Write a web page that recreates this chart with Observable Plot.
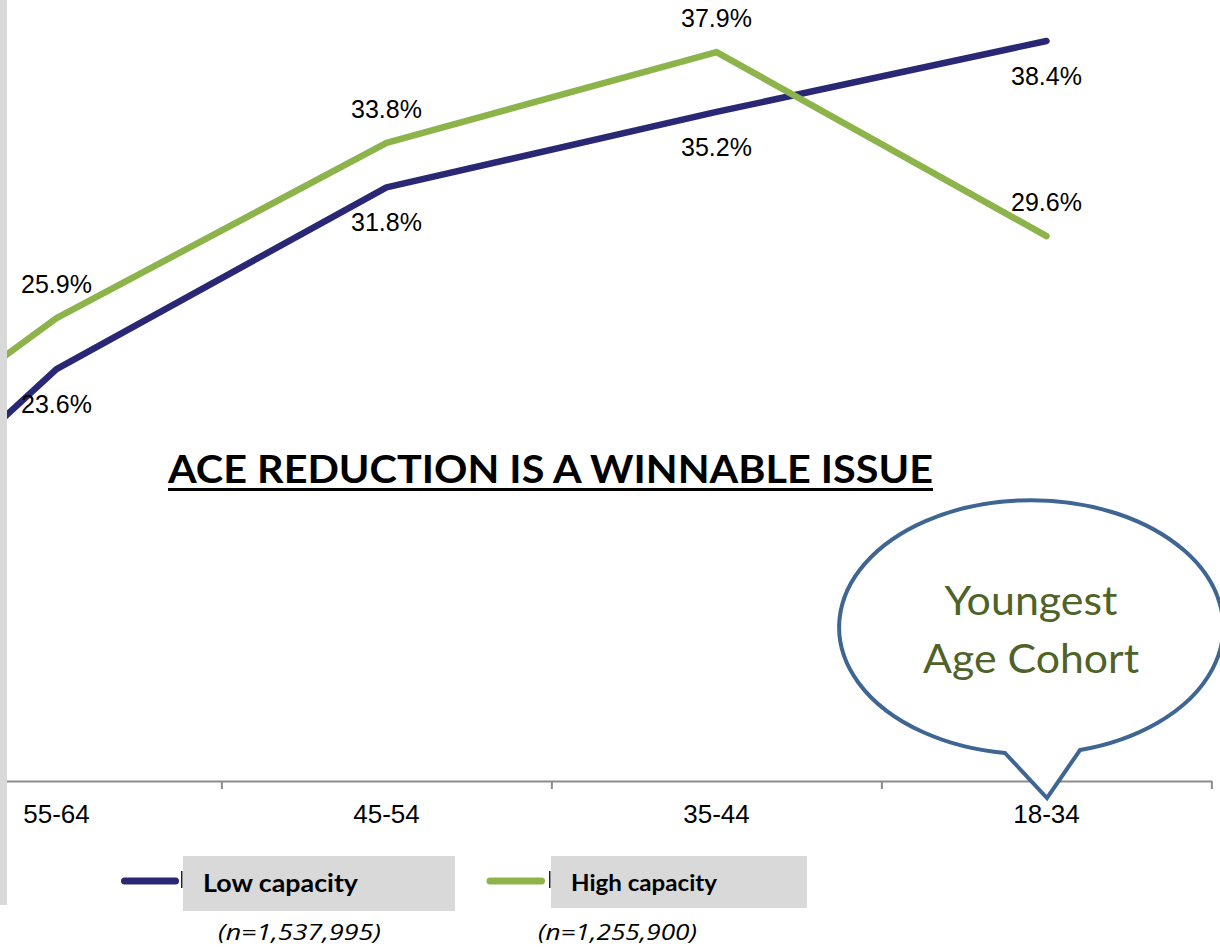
<!DOCTYPE html>
<html><head><meta charset="utf-8">
<script src="https://cdn.jsdelivr.net/npm/d3@7"></script>
<script src="https://cdn.jsdelivr.net/npm/@observablehq/plot@0.6"></script>
<style>
body{margin:0;background:#fff;}
#wrap{position:relative;width:1220px;height:950px;overflow:hidden;background:#fff;}
#chart{position:absolute;left:0;top:0;}
#chart svg{overflow:hidden;}
#overlay{position:absolute;left:0;top:0;}
</style></head><body>
<div id="wrap"><div id="chart"></div><svg id="overlay" width="1220" height="950"></svg></div>
<script>
// ---- data (first category is cut off at the left edge) ----
const ageGroups = ["65+", "55-64", "45-54", "35-44", "18-34"];
const lowCapacity = [9.9, 23.6, 31.8, 35.2, 38.4];
const highCapacity = [15.0, 25.9, 33.8, 37.9, 29.6];
const seriesNames = ["Low capacity", "High capacity"];
const sampleSizes = ["(n=1,537,995)", "(n=1,255,900)"];
const seriesColors = ["#2a2874", "#8db34b"];
const titleText = "ACE REDUCTION IS A WINNABLE ISSUE";
const calloutLines = ["Youngest", "Age Cohort"];

const rows = [];
[lowCapacity, highCapacity].forEach((vals, s) =>
  vals.forEach((v, i) => rows.push({age: ageGroups[i], value: v, series: seriesNames[s]})));
const visibleGroups = ageGroups.slice(1);
const lowRows = rows.filter(d => d.series === seriesNames[0] && visibleGroups.includes(d.age));
const highRows = rows.filter(d => d.series === seriesNames[1] && visibleGroups.includes(d.age));

// ---- layout ----
const W = 1220, H = 830, axisY = 781, topY = 5;
const xRange = [-276, 1047];
const yDomain = [5, 40];
const step = (xRange[1] - xRange[0]) / (ageGroups.length - 1);
const pxPerUnit = (axisY - topY) / (yDomain[1] - yDomain[0]);
const tickEnd = yDomain[0] - 8 / pxPerUnit;

const chart = Plot.plot({
  width: W, height: H,
  marginLeft: 0, marginRight: 8, marginTop: topY, marginBottom: H - axisY,
  style: {background: "white", overflow: "hidden"},
  x: {type: "point", domain: ageGroups, range: xRange, padding: 0, label: null},
  y: {domain: yDomain, range: [axisY, topY], axis: null},
  color: {domain: seriesNames, range: seriesColors},
  marks: [
    Plot.ruleY([yDomain[0]], {stroke: "#8c8c8c", strokeWidth: 2}),
    Plot.ruleX(ageGroups, {x: d => d, y1: yDomain[0], y2: tickEnd, dx: step / 2, stroke: "#8c8c8c", strokeWidth: 2}),
    Plot.axisX({ticks: visibleGroups, tickSize: 0, tickPadding: 23, fontSize: 26, fontFamily: "Liberation Sans, Arial, sans-serif", fill: "#000", label: null}),
    Plot.line(rows, {x: "age", y: "value", z: "series", stroke: "series", strokeWidth: 6.5, strokeLinecap: "round", strokeLinejoin: "round"}),
    Plot.text(lowRows, {x: "age", y: "value", text: d => d.value.toFixed(1) + "%", dy: 36, fontSize: 25, fontFamily: "Liberation Sans, Arial, sans-serif", fill: "#000"}),
    Plot.text(highRows, {x: "age", y: "value", text: d => d.value.toFixed(1) + "%", dy: -33, fontSize: 25, fontFamily: "Liberation Sans, Arial, sans-serif", fill: "#000"})
  ]
});
document.getElementById("chart").appendChild(chart);

// ---- annotations, legend ----
const ov = d3.select("#overlay");
ov.append("rect").attr("x", 0).attr("y", 0).attr("width", 7).attr("height", 905).attr("fill", "#d9d9d9");

// title
ov.append("text").attr("x", 550.5).attr("y", 483).attr("text-anchor", "middle")
  .attr("font-family", "Lato, 'Open Sans', sans-serif").attr("font-weight", 700).attr("font-size", 39)
  .attr("textLength", 765).attr("lengthAdjust", "spacingAndGlyphs").attr("fill", "#000").text(titleText);
ov.append("rect").attr("x", 168).attr("y", 488).attr("width", 765).attr("height", 3).attr("fill", "#000");

// callout bubble
ov.append("path")
  .attr("d", "M1005,753 L1047,798 L1080,750 A192,127 0 1 0 1005,753 Z")
  .attr("fill", "white").attr("stroke", "#3f6593").attr("stroke-width", 4).attr("stroke-linejoin", "miter");
const callY = [615, 673], callW = [173, 216];
calloutLines.forEach((t, i) => ov.append("text").attr("x", 1031).attr("y", callY[i]).attr("text-anchor", "middle")
  .attr("font-family", "Lato, 'Open Sans', sans-serif").attr("font-size", 40).attr("fill", "#4f6228")
  .attr("textLength", callW[i]).attr("lengthAdjust", "spacingAndGlyphs").text(t));

// legend
const leg = [
  {lx: [124.5, 175.5], box: [183, 856, 272, 55], tx: 203, ty: 892, tw: 155, fs: 25, nx: 218, nw: 163},
  {lx: [490, 541.5], box: [551, 856, 256, 52], tx: 571, ty: 891, tw: 146, fs: 23, nx: 538, nw: 159}
];
seriesNames.forEach((name, i) => {
  const L = leg[i];
  ov.append("line").attr("x1", L.lx[0]).attr("x2", L.lx[1]).attr("y1", 881).attr("y2", 881)
    .attr("stroke", seriesColors[i]).attr("stroke-width", 7).attr("stroke-linecap", "round");
  ov.append("rect").attr("x", L.box[0] - 2).attr("y", 871).attr("width", 1.5).attr("height", 17).attr("fill", "#222");
  ov.append("rect").attr("x", L.box[0]).attr("y", L.box[1]).attr("width", L.box[2]).attr("height", L.box[3]).attr("fill", "#d9d9d9");
  ov.append("text").attr("x", L.tx).attr("y", L.ty).attr("font-family", "Lato, 'Open Sans', sans-serif")
    .attr("font-weight", 700).attr("font-size", L.fs).attr("fill", "#000")
    .attr("textLength", L.tw).attr("lengthAdjust", "spacingAndGlyphs").text(name);
  ov.append("text").attr("x", L.nx).attr("y", 940).attr("font-family", "'Open Sans', Lato, sans-serif")
    .attr("font-style", "italic").attr("font-size", 22).attr("fill", "#000")
    .attr("textLength", L.nw).attr("lengthAdjust", "spacingAndGlyphs").text(sampleSizes[i]);
});
</script>
</body></html>
